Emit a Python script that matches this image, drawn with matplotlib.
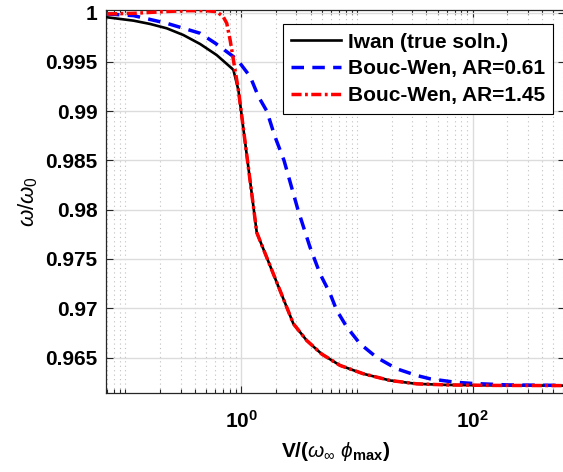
import numpy as np
import matplotlib
matplotlib.use('Agg')
import matplotlib.pyplot as plt
from matplotlib.ticker import FixedLocator, NullFormatter

plt.rcParams['font.family'] = ['Liberation Sans', 'DejaVu Sans']
plt.rcParams['mathtext.fontset'] = 'custom'
plt.rcParams['mathtext.rm'] = 'Liberation Sans'
plt.rcParams['mathtext.it'] = 'Liberation Sans:italic'
plt.rcParams['mathtext.bf'] = 'Liberation Sans:bold'

# Iwan model (true solution)
iwan_x = [0.0693, 0.1175, 0.164, 0.228, 0.317, 0.4425, 0.615, 0.831, 0.858, 0.948,
          1.366, 2.83, 3.69, 4.98, 7.16, 11.4, 19.4, 32.9, 60, 150, 630]
iwan_y = [0.99953, 0.99919, 0.99885, 0.99841, 0.99773, 0.99682, 0.9957, 0.99435, 0.99418, 0.99214,
          0.97768, 0.96843, 0.96673, 0.96535, 0.9642, 0.96335, 0.96267, 0.96233, 0.96222, 0.96217, 0.96215]

# Bouc-Wen, AR=0.61
bw1_x = [0.0693, 0.1175, 0.228, 0.4425, 0.6, 0.86, 0.98, 1.2, 1.41, 1.67, 1.95, 2.35, 3.1,
         3.94, 4.81, 5.87, 6.7, 8.19, 10.66, 14.9, 22.1, 32.9, 43, 70, 100, 200, 630]
bw1_y = [0.99987, 0.9997, 0.99892, 0.99791, 0.99689, 0.99553, 0.99486, 0.9935, 0.9915, 0.9900,
         0.9875, 0.9850, 0.9800, 0.9762, 0.9735, 0.9715, 0.9698, 0.9681, 0.9664, 0.9650, 0.96386,
         0.96318, 0.96284, 0.9625, 0.96237, 0.96222, 0.96217]

# Bouc-Wen, AR=1.45
bw2_x = [0.0693, 0.1175, 0.228, 0.35, 0.5, 0.615, 0.7, 0.752, 0.804, 0.831, 0.887, 0.948,
         1.366, 2.83, 3.69, 4.98, 7.16, 11.4, 19.4, 32.9, 60, 150, 630]
bw2_y = [0.99987, 0.99993, 1.00012, 1.0002, 1.0002, 1.0001, 0.9996, 0.99892, 0.99722, 0.9962, 0.99418, 0.99214,
         0.97768, 0.96843, 0.96673, 0.96535, 0.9642, 0.96335, 0.96267, 0.96233, 0.96222, 0.96217, 0.96215]

ytick_vals = [0.965, 0.97, 0.975, 0.98, 0.985, 0.99, 0.995, 1.0]
ytick_labels = ['0.965', '0.97', '0.975', '0.98', '0.985', '0.99', '0.995', '1']
xtick_vals = [1, 100]
xtick_labels = [r'$\mathbf{10^{0}}$', r'$\mathbf{10^{2}}$']

fig = plt.figure(figsize=(5.63, 4.72), dpi=100)
ax = fig.add_axes([106 / 563, 79 / 472, 459 / 563, 383 / 472])

ax.semilogx(iwan_x, iwan_y, color='k', lw=1.9, label='Iwan (true soln.)', zorder=3)
ax.semilogx(bw1_x, bw1_y, color='#0000ff', lw=2.5, dashes=(3.6, 2.4), label='Bouc-Wen, AR=0.61', zorder=4)
ax.semilogx(bw2_x, bw2_y, color='#ff0000', lw=2.5, dashes=(2.9, 1.0, 0.8, 1.0), label='Bouc-Wen, AR=1.45', zorder=5)

ax.set_xlim(0.068, 630)
ax.set_ylim(0.9614, 1.00027)

ax.xaxis.set_major_locator(FixedLocator(xtick_vals))
ax.set_xticklabels(xtick_labels)
minors = [k * 10.0 ** n for n in range(-2, 3) for k in range(1, 10) if k * 10.0 ** n not in (1, 100)]
ax.xaxis.set_minor_locator(FixedLocator(minors))
ax.xaxis.set_minor_formatter(NullFormatter())
ax.set_yticks(ytick_vals)
ax.set_yticklabels(ytick_labels)

ax.tick_params(which='both', direction='in', top=True, right=True, colors='#262626',
               labelsize=15, width=0.8)
ax.tick_params(which='major', length=5)
ax.tick_params(which='minor', length=3)
for lbl in ax.get_yticklabels():
    lbl.set_fontweight('bold')
    lbl.set_color('k')
for lbl in ax.get_xticklabels():
    lbl.set_color('k')
ax.tick_params(axis='y', pad=6)
ax.tick_params(axis='x', pad=12)

ax.grid(True, which='major', color='#dcdcdc', lw=1.0, ls='-')
ax.grid(True, which='minor', axis='x', color='#c0c0c0', lw=0.8, ls=(0, (1, 3)))
ax.set_axisbelow(True)
for s in ax.spines.values():
    s.set_color('#262626')
    s.set_linewidth(0.9)

ax.set_xlabel(r'$\mathbf{V/(}\omega_{\infty}\ \phi_{\mathbf{max}}\mathbf{)}$', fontsize=15, labelpad=6)
ax.set_ylabel(r'$\omega/\omega_0$', fontsize=16, labelpad=4)

leg = ax.legend(loc='upper right', bbox_to_anchor=(0.974, 0.963), borderaxespad=0,
                fancybox=False, framealpha=1, edgecolor='k', handlelength=2.4,
                handletextpad=0.3, labelspacing=0.38, borderpad=0.4,
                prop={'size': 15, 'weight': 'bold'})
leg.get_frame().set_linewidth(0.8)

fig.savefig('out.png', dpi=100)
